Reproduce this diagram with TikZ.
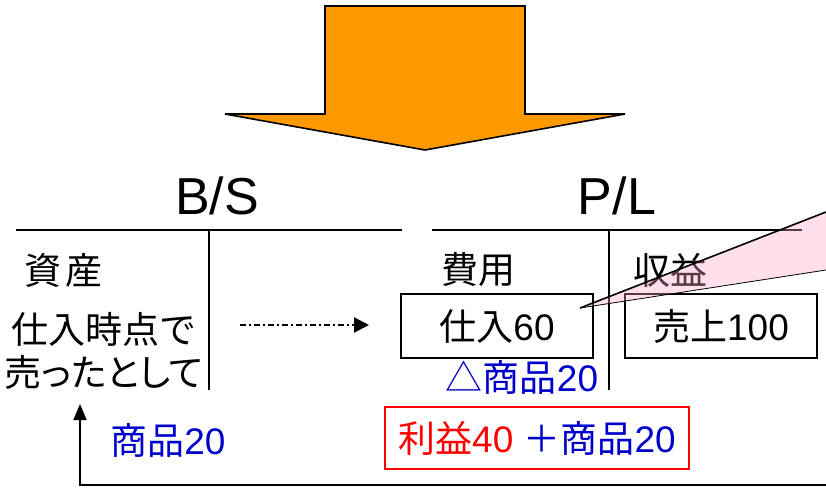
\documentclass[tikz,border=0pt]{standalone}
\usepackage{fontspec}
\setmainfont{Liberation Sans}
\newfontfamily\jp{Noto Sans CJK JP}
\newfontfamily\jpp[RawFeature=+palt]{Noto Sans CJK JP}
\usetikzlibrary{arrows.meta}
\definecolor{orng}{RGB}{255,153,0}
\definecolor{blu}{RGB}{0,0,204}
\definecolor{pnk}{RGB}{255,164,203}
\begin{document}
\begin{tikzpicture}[x=1pt,y=-1pt,
  head/.style={font=\fontsize{52}{56}\selectfont, inner sep=0pt},
  txt/.style={font=\fontsize{37}{40}\selectfont, inner sep=0pt},
  acc/.style={line width=1.6pt},
  box/.style={draw, line width=1.6pt, minimum width=192pt, minimum height=64pt, inner sep=0pt, font=\fontsize{37}{40}\selectfont},
  conn/.style={line width=1.8pt}]
\useasboundingbox (0,0) rectangle (826,490);
\fill[white] (0,0) rectangle (826,490);
% big arrow
\draw[fill=orng, line width=1.6pt, line join=miter] (325,6) -- (525,6) -- (525,114) -- (625,114) -- (425,150) -- (225,114) -- (325,114) -- cycle;
% headers
\node[head] (bs) at (217,196) {B/S};
\node[head] (pl) at (617,196) {P/L};
% T accounts
\draw[acc] (16,230) -- (402,230);
\draw[acc] (209,230) -- (209,390);
\draw[acc] (432,230) -- (802,230);
\draw[acc] (609,230) -- (609,390);
% labels
\node[txt, anchor=west] (shisan) at (24,270) {\jp 資\kern4pt 産};
\node[txt, anchor=west] (hiyou) at (441,270) {\jp 費用};
\node[txt, anchor=west] (shueki) at (633,270) {\jp 収益};
\node[txt] (l1) at (104,329) {\jp 仕入時点で};
\node[txt] (l2) at (104,372) {\jpp 売ったとして};
% boxes
\node[box] (shiire) at (497,326) {{\jp 仕入}60};
\node[box] (uriage) at (721,326) {{\jp 売上}100};
% dashed arrow
\coordinate (da) at (240,325);
\coordinate (db) at (369,325);
\draw[line width=2.2pt, dash pattern=on 6pt off 3pt on 2pt off 3pt, -{Triangle[length=15pt,width=15pt]}] (da) -- (db);
% delta
\node[txt, text=blu] (delta) at (522,377) {{\jp △商品}20};
% red box
\node[draw=red, line width=2pt, minimum width=304pt, minimum height=62pt, inner sep=0pt, font=\fontsize{37}{40}\selectfont] (rieki) at (537,438) {{\color{red}{\jp 利益}40} {\color{blu}{\jp ＋商品}20}};
% blue label
\node[txt, text=blu] (shohin) at (168,440) {{\jp 商品}20};
% bottom connector
\coordinate (br) at (830,485);
\coordinate (bl) at (80,485);
\coordinate (bt) at (80,404);
\draw[conn, -{Triangle[length=16pt,width=13pt]}] (br) -- (bl) -- (bt);
% callout
\coordinate (apex) at (580,308);
\coordinate (ct) at (826,212);
\coordinate (cb) at (826,270);
\fill[pnk, fill opacity=0.35] (apex) -- (ct) -- (cb) -- cycle;
\draw[line width=1.6pt] (apex) -- (ct);
\draw[line width=0.8pt] (apex) -- (cb);
\end{tikzpicture}
\end{document}
